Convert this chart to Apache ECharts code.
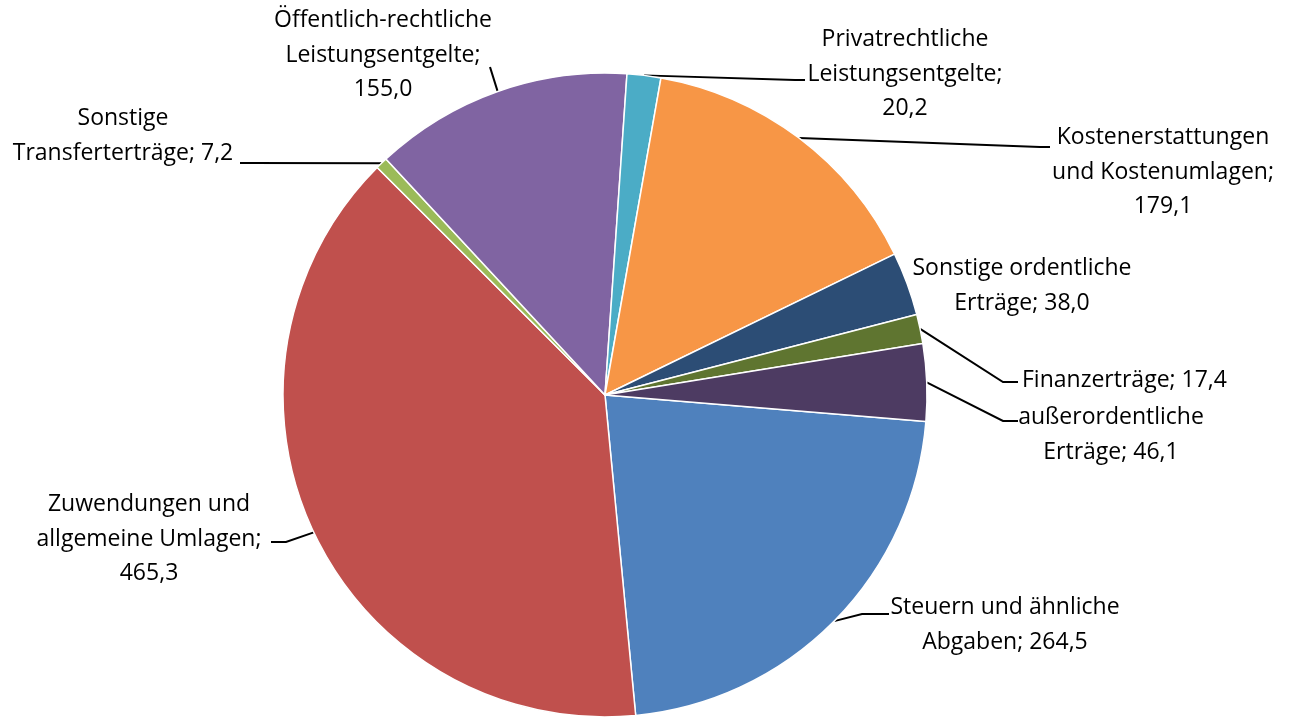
<!DOCTYPE html>
<html>
<head>
<meta charset="utf-8">
<script src="https://cdn.jsdelivr.net/npm/echarts@6/dist/echarts.min.js"></script>
<style>
  html, body { margin: 0; padding: 0; background: #fff; }
  #chart { width: 1290px; height: 720px; }
</style>
</head>
<body>
<div id="chart"></div>
<script>
// Daten (Mio. EUR)
const categories = [
  'Steuern und ähnliche\nAbgaben',
  'Zuwendungen und\nallgemeine Umlagen',
  'Sonstige\nTransferterträge',
  'Öffentlich-rechtliche\nLeistungsentgelte',
  'Privatrechtliche\nLeistungsentgelte',
  'Kostenerstattungen\nund Kostenumlagen',
  'Sonstige ordentliche\nErträge',
  'Finanzerträge',
  'außerordentliche\nErträge'
]
const values = [264.5, 465.3, 7.2, 155.0, 20.2, 179.1, 38.0, 17.4, 46.1]
// Wert in eigener Zeile?
const valueOnNewLine = [false, true, false, true, true, true, false, false, false]
const colors = ['#4F81BD', '#C0504D', '#9BBB59', '#8064A2', '#4BACC6', '#F79646', '#2C4D75', '#5F7530', '#4D3B62']

// Beschriftungspositionen: [x, y, align], Führungslinie: [knickX, endX, endY] (null = keine Linie)
const labelPos = [
  [1005, 625, 'center'],
  [149, 539, 'center'],
  [123, 136, 'center'],
  [383, 55, 'center'],
  [905, 74, 'center'],
  [1163, 172, 'center'],
  [1022, 286, 'center'],
  [1022, 380, 'left'],
  [1111, 435, 'center']
]
const leaderEnd = [
  [862, 889, 614],
  [286, 271, 542],
  [250, 240, 163],
  [490, 490, 67],
  [795, 805, 80],
  [1040, 1050, 147],
  null,
  [1003, 1018, 382],
  [1003, 1018, 421]
]

const fmt = (v) => v.toFixed(1).replace('.', ',')

const chart = echarts.init(document.getElementById('chart'))

const option = {
  animation: false,
  series: [
    {
      type: 'pie',
      center: [605, 395],
      radius: 322,
      startAngle: -4.7,
      clockwise: true,
      avoidLabelOverlap: false,
      itemStyle: {
        borderColor: '#fff',
        borderWidth: 1.5
      },
      label: {
        show: true,
        position: 'outside',
        color: '#000',
        fontFamily: 'Open Sans',
        fontSize: 23,
        lineHeight: 34.5,
        align: 'center',
        formatter: (p) => p.name + ';' + (valueOnNewLine[p.dataIndex] ? '\n' : ' ') + fmt(p.value)
      },
      labelLine: {
        show: true,
        length: 10,
        length2: 10,
        lineStyle: { color: '#000', width: 2 }
      },
      labelLayout: (params) => {
        const i = params.dataIndex
        const pos = labelPos[i]
        const end = leaderEnd[i]
        const p0 = params.labelLinePoints ? params.labelLinePoints[0] : [0, 0]
        const res = {
          x: pos[0],
          y: pos[1],
          align: pos[2],
          verticalAlign: 'middle'
        }
        if (end) {
          res.labelLinePoints = [p0, [end[0], end[2]], [end[1], end[2]]]
        } else {
          res.labelLinePoints = [p0, p0, p0]
        }
        return res
      },
      emphasis: { disabled: true },
      data: values.map((v, i) => ({
        name: categories[i],
        value: v,
        itemStyle: { color: colors[i] }
      }))
    }
  ]
}

chart.setOption(option)
</script>
</body>
</html>
